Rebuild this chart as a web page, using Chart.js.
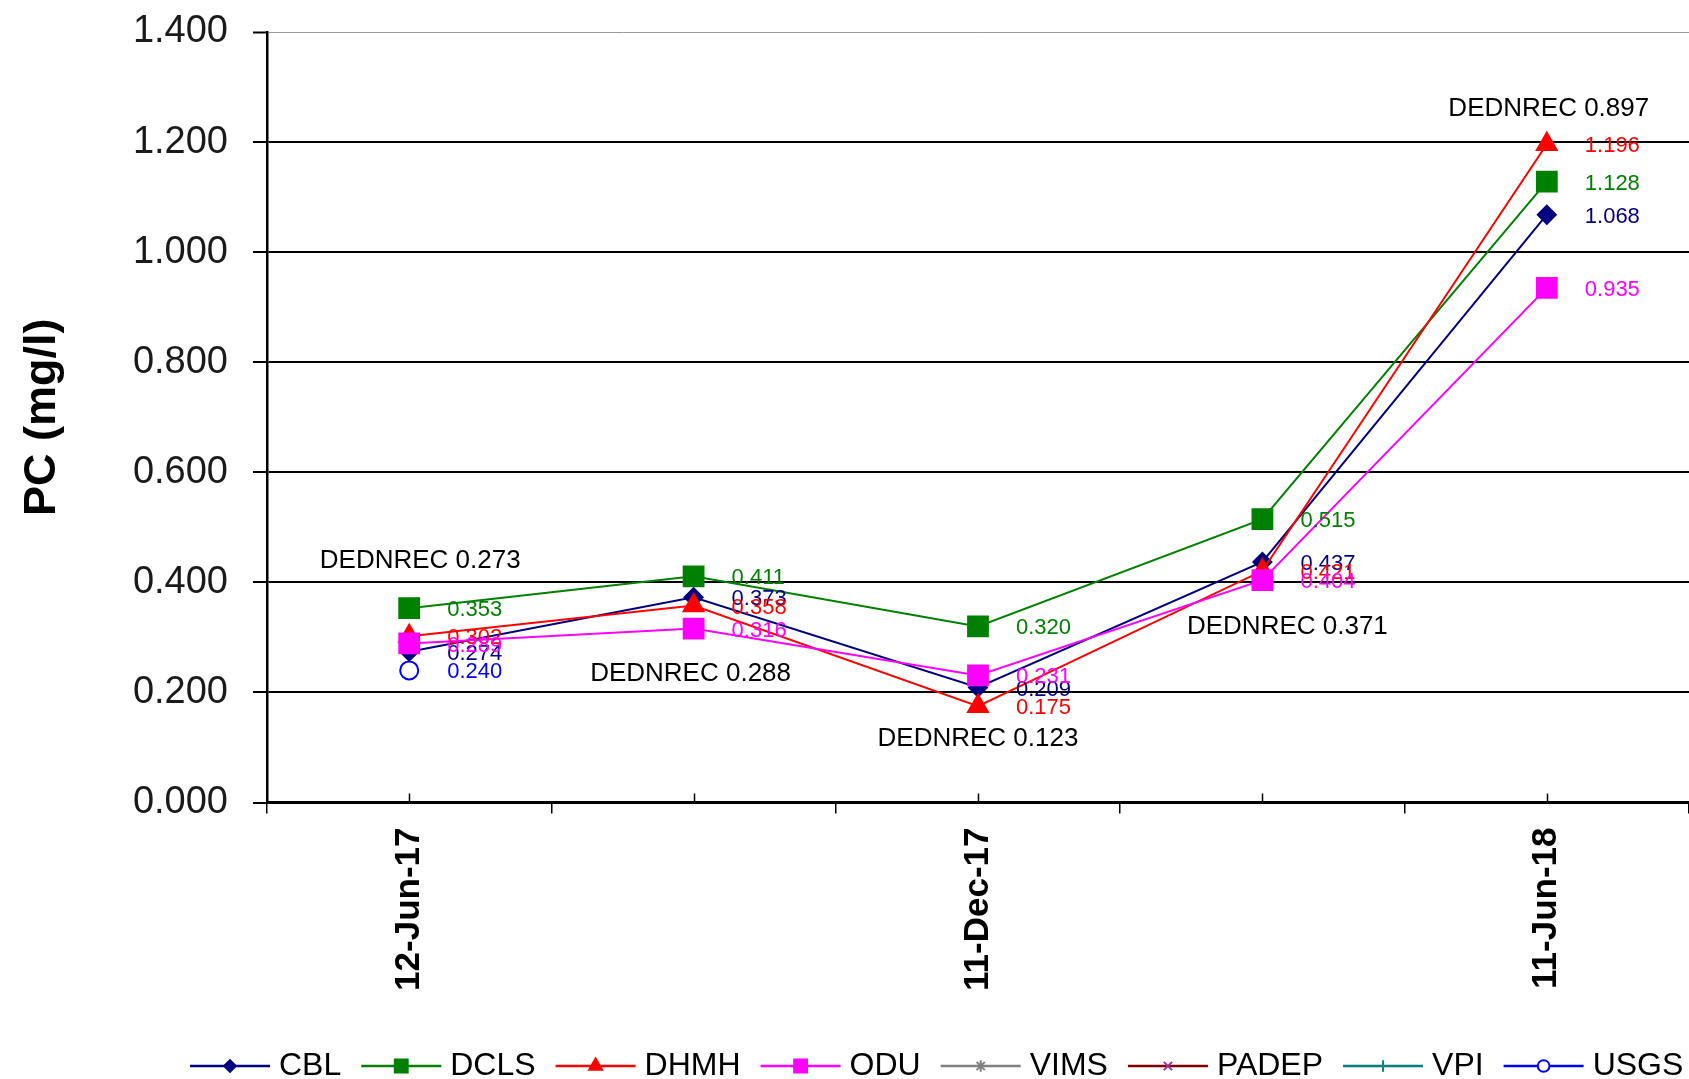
<!DOCTYPE html>
<html>
<head>
<meta charset="utf-8">
<title>PC (mg/l)</title>
<script src="https://cdn.jsdelivr.net/npm/chart.js@4.4.1/dist/chart.umd.min.js"></script>
<style>
  html, body { margin: 0; padding: 0; background: #fff; overflow: hidden; }
  canvas { display: block; }
</style>
</head>
<body>
<canvas id="pcChart" width="1689" height="1079"></canvas>
<script>
// sampling dates (only every other one is labelled on the axis)
const dates = ['12-Jun-17', '11-Sep-17', '11-Dec-17', '12-Mar-18', '11-Jun-18'];

// PC results per lab (mg/l)
const cblValues   = [0.274, 0.373, 0.209, 0.437, 1.068];
const dclsValues  = [0.353, 0.411, 0.320, 0.515, 1.128];
const dhmhValues  = [0.302, 0.358, 0.175, 0.421, 1.196];
const oduValues   = [0.289, 0.316, 0.231, 0.404, 0.935];
const vimsValues  = [null, null, null, null, null];
const padepValues = [null, null, null, null, null];
const vpiValues   = [null, null, null, null, null];
const usgsValues  = [0.240, null, null, null, null];

// DEDNREC results are only written as notes on the chart
const dednrecValues = [0.273, 0.288, 0.123, 0.371, 0.897];

const yTickValues = [0, 0.2, 0.4, 0.6, 0.8, 1.0, 1.2, 1.4];

// where the DEDNREC notes sit (y in mg/l on the axis, x shift in px)
const dednrecNoteY = [0.44, 0.234, 0.115, 0.319, 1.261];
const dednrecNoteShift = [11, -3, 0, 25, 2];

const FONT = '"Liberation Sans", Arial, Helvetica, sans-serif';

function series(label, data, color, style, radius, fill, markerColor) {
    return {
        label: label,
        data: data,
        borderColor: color,
        backgroundColor: color,
        borderWidth: 2,
        pointStyle: style,
        pointRadius: radius,
        pointHoverRadius: radius,
        pointBorderWidth: 2,
        pointBackgroundColor: fill,
        pointBorderColor: markerColor || color,
        tension: 0,
        fill: false
    };
}

const datasets = [
    series('CBL', cblValues, '#000080', 'rectRot', 9, '#000080'),
    series('DCLS', dclsValues, '#008000', 'rect', 14, '#008000'),
    series('DHMH', dhmhValues, '#FF0000', 'triangle', 11.5, '#FF0000'),
    series('ODU', oduValues, '#FF00FF', 'rect', 14, '#FF00FF'),
    series('VIMS', vimsValues, '#808080', 'star', 9, '#808080'),
    series('PADEP', padepValues, '#800000', 'crossRot', 9, '#993399', '#993399'),
    series('VPI', vpiValues, '#008080', 'cross', 9, '#008080'),
    series('USGS', usgsValues, '#0000FF', 'circle', 9, '#FFFFFF')
];
// later labs are drawn over earlier ones
datasets.forEach((d, i) => { d.order = -i; });

// numbers next to each point
const pointLabels = {
    id: 'pointLabels',
    afterDatasetsDraw(chart) {
        const ctx = chart.ctx;
        ctx.save();
        ctx.font = '22px ' + FONT;
        ctx.textAlign = 'left';
        ctx.textBaseline = 'middle';
        chart.data.datasets.forEach((ds, i) => {
            const meta = chart.getDatasetMeta(i);
            meta.data.forEach((pt, j) => {
                const v = ds.data[j];
                if (v === null || v === undefined) return;
                ctx.fillStyle = ds.borderColor;
                ctx.fillText(v.toFixed(3), pt.x + 38, pt.y + 2);
            });
        });
        ctx.restore();
    }
};

// DEDNREC notes
const dednrecNotes = {
    id: 'dednrecNotes',
    afterDatasetsDraw(chart) {
        const ctx = chart.ctx;
        const xs = chart.scales.x, ys = chart.scales.y;
        ctx.save();
        ctx.font = '26px ' + FONT;
        ctx.fillStyle = '#000';
        ctx.textAlign = 'center';
        ctx.textBaseline = 'middle';
        dednrecValues.forEach((v, j) => {
            const x = xs.getPixelForValue(j) + dednrecNoteShift[j];
            const y = ys.getPixelForValue(dednrecNoteY[j]);
            ctx.fillText('DEDNREC ' + v.toFixed(3), x, y);
        });
        ctx.restore();
    }
};

// small upward ticks at each sampling date
const dateTicks = {
    id: 'dateTicks',
    afterDraw(chart) {
        const ctx = chart.ctx;
        const xs = chart.scales.x;
        const y0 = chart.chartArea.bottom;
        ctx.save();
        ctx.strokeStyle = '#000';
        ctx.lineWidth = 1.5;
        dates.forEach((d, j) => {
            const x = Math.round(xs.getPixelForValue(j)) + 0.5;
            ctx.beginPath();
            ctx.moveTo(x, y0);
            ctx.lineTo(x, y0 - 9);
            ctx.stroke();
        });
        ctx.restore();
    }
};

// legend along the bottom: line with marker, then the lab name
const bottomLegend = {
    id: 'bottomLegend',
    afterDraw(chart) {
        const ctx = chart.ctx;
        const y = 1066;
        const lineLen = 80;
        let x = 190;
        ctx.save();
        ctx.font = '32px ' + FONT;
        ctx.textBaseline = 'middle';
        ctx.textAlign = 'left';
        chart.data.datasets.forEach((ds) => {
            ctx.strokeStyle = ds.borderColor;
            ctx.lineWidth = 2.5;
            ctx.beginPath();
            ctx.moveTo(x, y);
            ctx.lineTo(x + lineLen, y);
            ctx.stroke();
            ctx.fillStyle = ds.pointBackgroundColor;
            ctx.strokeStyle = ds.pointBorderColor;
            ctx.lineWidth = 2;
            Chart.helpers.drawPoint(ctx, {
                pointStyle: ds.pointStyle,
                radius: ds.pointRadius * 0.65,
                borderWidth: 2,
                rotation: 0
            }, x + lineLen / 2, y);
            ctx.fillStyle = '#000';
            const tx = x + lineLen + 9;
            ctx.fillText(ds.label, tx, y);
            x = tx + ctx.measureText(ds.label).width + 20;
        });
        ctx.restore();
    }
};

const ctx = document.getElementById('pcChart').getContext('2d');
new Chart(ctx, {
    type: 'line',
    data: { labels: dates, datasets: datasets },
    plugins: [pointLabels, dednrecNotes, dateTicks, bottomLegend],
    options: {
        responsive: false,
        animation: false,
        devicePixelRatio: 1,
        layout: { autoPadding: false, padding: { top: 32, right: 0, bottom: 0, left: 0 } },
        plugins: {
            legend: { display: false },
            tooltip: {
                callbacks: {
                    label: function(context) {
                        return context.dataset.label + ': ' + context.parsed.y.toFixed(3);
                    }
                }
            }
        },
        scales: {
            x: {
                type: 'category',
                offset: true,
                afterFit: function(scale) {
                    scale.height = 276.5;
                    scale.paddingLeft = 0;
                    scale.paddingRight = 0;
                },
                grid: {
                    display: true,
                    offset: true,
                    drawOnChartArea: false,
                    drawTicks: true,
                    tickLength: 11,
                    color: '#000',
                    lineWidth: 1.5
                },
                border: { display: true, color: '#000', width: 2.5 },
                ticks: {
                    autoSkip: false,
                    maxRotation: 90,
                    minRotation: 90,
                    padding: 14,
                    color: '#000',
                    font: { family: FONT, size: 35, weight: 'bold' },
                    callback: function(value, index) {
                        return index % 2 === 0 ? this.getLabelForValue(value) : '';
                    }
                }
            },
            y: {
                min: 0,
                max: 1.4,
                afterFit: function(scale) {
                    scale.width = 267;
                    scale.paddingTop = 0;
                    scale.paddingBottom = 0;
                },
                afterBuildTicks: function(scale) {
                    scale.ticks = yTickValues.map(v => ({ value: v }));
                },
                grid: {
                    color: ctx => (ctx.tick && Math.abs(ctx.tick.value - 1.4) < 1e-6) ? '#9a9a9a' : '#000',
                    lineWidth: ctx => (ctx.tick && Math.abs(ctx.tick.value - 1.4) < 1e-6) ? 1 : 2,
                    tickColor: '#000',
                    tickWidth: 2,
                    tickLength: 14,
                    drawTicks: true
                },
                border: { display: true, color: '#000', width: 2.5 },
                ticks: {
                    padding: 25,
                    color: '#1a1a1a',
                    font: { family: FONT, size: 38 },
                    callback: v => v.toFixed(3)
                },
                title: {
                    display: true,
                    text: 'PC (mg/l)',
                    color: '#000',
                    font: { family: FONT, size: 45, weight: 'bold' },
                    padding: { top: 16, bottom: 0 }
                }
            }
        }
    }
});
</script>
</body>
</html>
